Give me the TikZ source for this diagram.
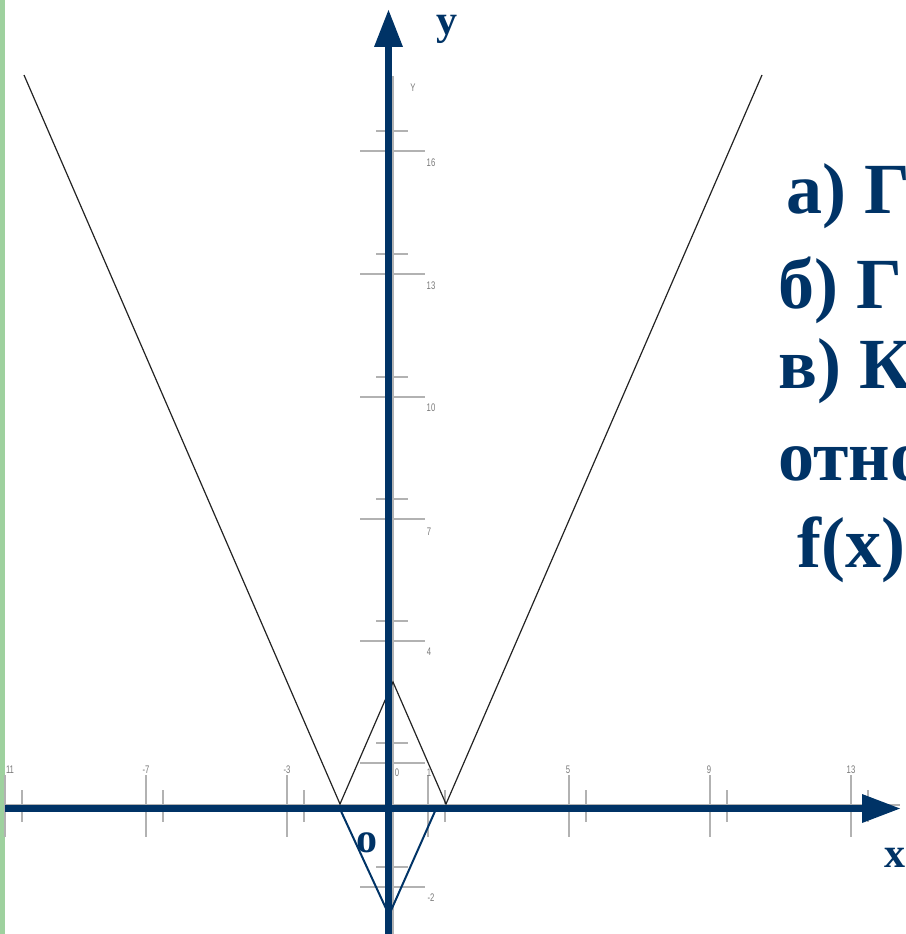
\documentclass[tikz,border=0pt]{standalone}
\usepackage{fontspec}
\setmainfont{Liberation Serif}
\newfontfamily\labfont{Liberation Sans}
\definecolor{axisblue}{RGB}{0,51,102}
\definecolor{stripgreen}{RGB}{158,209,158}
\definecolor{tickgray}{RGB}{178,178,178}
\definecolor{labgray}{RGB}{120,120,120}
\definecolor{graphline}{RGB}{35,35,35}
\tikzset{
  grayline/.style={draw=tickgray, line width=1.8pt},
  axisline/.style={draw=axisblue, line width=6.5pt},
  arrowhead/.style={fill=axisblue},
  graphpath/.style={draw=graphline, line width=1.2pt},
  reflpath/.style={draw=axisblue, line width=2pt},
  ticklab/.style={text=labgray, inner sep=0pt, anchor=base, font=\labfont\fontsize{11}{11}\selectfont, xscale=0.7},
  axislab/.style={text=axisblue, inner sep=0pt, anchor=base, font=\bfseries\fontsize{42}{42}\selectfont},
  bigtext/.style={text=axisblue, inner sep=0pt, anchor=base west, font=\bfseries\fontsize{72}{72}\selectfont}
}
\begin{document}
\begin{tikzpicture}[x=1pt,y=-1pt]
\useasboundingbox (0,0) rectangle (905,934);
\fill[stripgreen] (0,0) rectangle (5,934);

% faint original axes
\draw[grayline] (5,805) -- (900,805);
\draw[grayline] (393,76) -- (393,934);

% x ticks and labels
\foreach \x in {5,146,287,428,569,710,851} {
  \draw[grayline] (\x,775) -- (\x,837);
  \draw[grayline] (\x+17,790) -- (\x+17,822);
}
\node[ticklab] (lxm11) at (10,773) {11};
\node[ticklab] (lxm7) at (146,773) {-7};
\node[ticklab] (lxm3) at (287,773) {-3};
\node[ticklab] (lx0) at (397,776) {0};
\node[ticklab] (lx1) at (429,776) {1};
\node[ticklab] (lx5) at (568,773) {5};
\node[ticklab] (lx9) at (709,773) {9};
\node[ticklab] (lx13) at (851,773) {13};

% y ticks and labels
\foreach \y in {151,274,397,519,641,763,887} {
  \draw[grayline] (360,\y) -- (425,\y);
  \draw[grayline] (376,\y-20) -- (408,\y-20);
}
\node[ticklab] (lyY) at (413,91) {Y};
\node[ticklab] (ly16) at (431,166) {16};
\node[ticklab] (ly13) at (431,289) {13};
\node[ticklab] (ly10) at (431,411) {10};
\node[ticklab] (ly7) at (429,535) {7};
\node[ticklab] (ly4) at (429,655) {4};
\node[ticklab] (lym2) at (431,901) {-2};

% graph of the function
\coordinate (ga) at (24,75);
\coordinate (gl) at (340,804);
\coordinate (gp) at (393,682);
\coordinate (gr) at (446,804);
\coordinate (gb) at (762,75);
\draw[graphpath] (ga) -- (gl) -- (gp) -- (gr) -- (gb);

% reflected part
\coordinate (rl) at (340,809);
\coordinate (rv) at (389,915);
\coordinate (rr) at (436,809);
\draw[reflpath] (rl) -- (rv) -- (rr);

% axes
\coordinate (yb) at (388.5,934);
\coordinate (yt) at (388.5,47);
\coordinate (xl) at (5,808.5);
\coordinate (xr) at (862,808.5);
\draw[axisline] (yb) -- (yt);
\draw[axisline] (xl) -- (xr);
\fill[arrowhead] (374,47) -- (388.5,10) -- (403,47) -- cycle;
\fill[arrowhead] (862,794) -- (900,808.5) -- (862,823) -- cycle;

\node[axislab] (ylab) at (447,35) {y};
\node[axislab] (xlab) at (895,867) {x};
\node[axislab] (olab) at (367,852) {o};

% text on the right (cut by the right edge, as in the reference)
\node[bigtext] (ta) at (786,213) {а) Г};
\node[bigtext] (tb) at (778,308) {б) Г};
\node[bigtext] (tc) at (778,388) {в) К};
\node[bigtext] (td) at (778,480) {отно};
\node[bigtext] (te) at (797,567) {f(x)};
\end{tikzpicture}
\end{document}
